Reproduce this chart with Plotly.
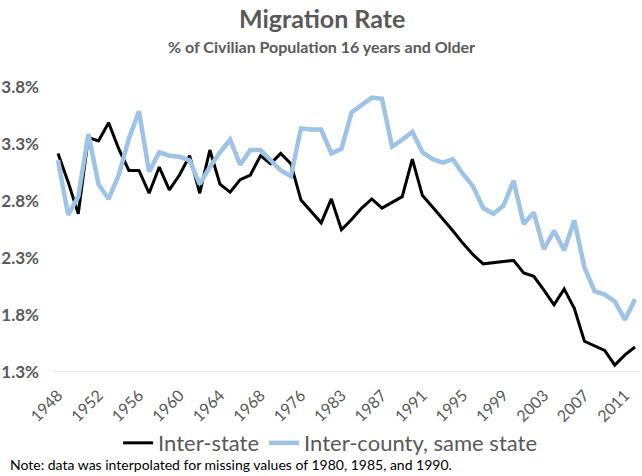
import plotly.graph_objects as go

years = [str(y) for y in range(1948, 1972)] + ["1976", "1980", "1981", "1982"] + [str(y) for y in range(1983, 2013)]

inter_state = [3.22, 2.97, 2.69, 3.36, 3.33, 3.49, 3.26, 3.07, 3.07, 2.87,
               3.10, 2.90, 3.03, 3.20, 2.87, 3.25, 2.95, 2.88, 2.99, 3.03,
               3.20, 3.13, 3.22, 3.13, 2.81, 2.71, 2.61, 2.82, 2.55, 2.64,
               2.74, 2.82, 2.74, 2.79, 2.84, 3.17, 2.85, 2.75, 2.65, 2.54,
               2.43, 2.33, 2.25, 2.26, 2.27, 2.28, 2.17, 2.14, 2.02, 1.89,
               2.03, 1.86, 1.57, 1.53, 1.49, 1.36, 1.45, 1.52]

inter_county = [3.16, 2.68, 2.84, 3.39, 2.95, 2.82, 3.03, 3.35, 3.59, 3.06,
                3.23, 3.20, 3.19, 3.16, 2.95, 3.10, 3.23, 3.34, 3.12, 3.25,
                3.25, 3.16, 3.07, 3.02, 3.44, 3.43, 3.43, 3.22, 3.26, 3.58,
                3.65, 3.71, 3.70, 3.28, 3.34, 3.41, 3.23, 3.17, 3.14, 3.17,
                3.04, 2.93, 2.74, 2.69, 2.76, 2.98, 2.60, 2.70, 2.38, 2.54,
                2.37, 2.63, 2.22, 2.01, 1.98, 1.92, 1.76, 1.94]

y_ticks = [1.3, 1.8, 2.3, 2.8, 3.3, 3.8]
y_tick_labels = ["1.3%", "1.8%", "2.3%", "2.8%", "3.3%", "3.8%"]
x_tick_labels = years[::4]

FONT = "Lato"
GRAY = "#595959"

fig = go.Figure()
fig.add_trace(go.Scatter(x=years, y=inter_state, mode="lines", name="Inter-state",
                         line=dict(color="#000000", width=3)))
fig.add_trace(go.Scatter(x=years, y=inter_county, mode="lines", name="Inter-county, same state",
                         line=dict(color="#9DC3E6", width=4.5)))

fig.update_layout(
    width=642, height=476,
    margin=dict(l=52, r=2, t=76, b=104, autoexpand=False),
    paper_bgcolor="white", plot_bgcolor="white",
    font=dict(family=FONT, color=GRAY),
    showlegend=True,
    legend=dict(orientation="h", x=0.473, xanchor="center",
                y=-0.24, yanchor="middle",
                font=dict(family=FONT, size=22, color=GRAY), itemwidth=30,
                bgcolor="rgba(0,0,0,0)"),
    xaxis=dict(type="category", categoryorder="array", categoryarray=years,
               range=[-0.593, 57.49], tickmode="array", tickvals=x_tick_labels,
               ticktext=x_tick_labels, tickangle=-45, showgrid=False, zeroline=False,
               showline=False, ticks="", automargin=False, ticklabelstandoff=10,
               tickfont=dict(family=FONT, size=16, color=GRAY)),
    yaxis=dict(range=[1.3, 3.9], tickmode="array", tickvals=y_ticks,
               ticktext=["<b>%s</b>" % t for t in y_tick_labels],
               showgrid=False, zeroline=False, showline=False, ticks="", automargin=False,
               ticklabelstandoff=12,
               tickfont=dict(family=FONT, size=17, color=GRAY)),
    shapes=[dict(type="line", xref="paper", yref="y", x0=0, x1=1, y0=1.3, y1=1.3,
                 line=dict(color="#D9D9D9", width=1))],
    annotations=[
        dict(text="<b>Migration Rate</b>", xref="paper", yref="paper", x=0.459, y=1.196,
             xanchor="center", yanchor="middle", showarrow=False,
             font=dict(family=FONT, size=25, color=GRAY)),
        dict(text="<b>% of Civilian Population 16 years and Older</b>", xref="paper", yref="paper",
             x=0.459, y=1.098, xanchor="center", yanchor="middle", showarrow=False,
             font=dict(family=FONT, size=16, color=GRAY)),
        dict(text="Note: data was interpolated for missing values of 1980, 1985, and 1990.",
             xref="paper", yref="paper", x=-0.075, y=-0.314, xanchor="left", yanchor="middle",
             showarrow=False, font=dict(family=FONT, size=14, color="#000000")),
    ],
)

fig.write_html("out.html", config={"displayModeBar": False},
               post_script="document.body.style.margin='0';document.body.style.overflow='hidden';")
